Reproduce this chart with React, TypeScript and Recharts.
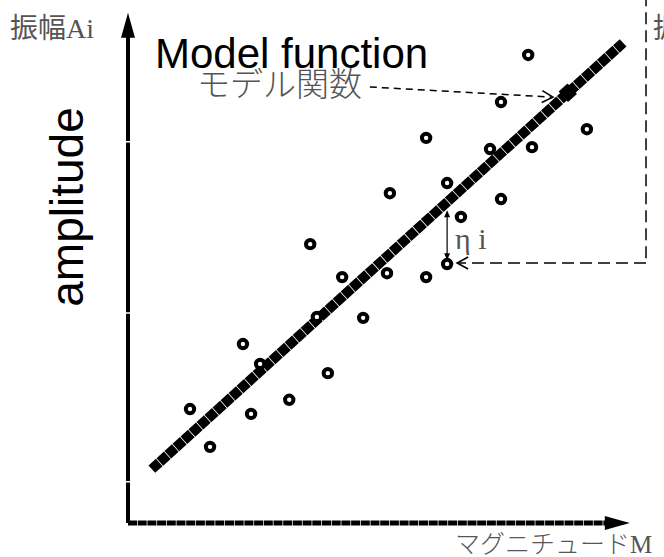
import { ComposedChart, Scatter, Line, XAxis, YAxis, ReferenceLine, ReferenceDot } from 'recharts';

const magnitude = [1.30, 1.72, 2.41, 2.58, 2.77, 3.38, 3.82, 3.96, 4.19, 4.49, 4.93, 5.43, 5.49, 6.25, 6.25, 6.69, 6.98, 6.69, 7.59, 7.82, 7.82, 8.39, 8.47, 9.62];
const amplitude = [2.35, 1.57, 3.69, 2.25, 3.28, 2.54, 5.75, 4.25, 3.09, 5.07, 4.23, 5.15, 6.80, 5.07, 7.94, 7.01, 6.31, 5.34, 7.71, 6.68, 8.68, 9.65, 7.75, 8.12];

// model function (fitted line), its two end points
const modelM = [0.5, 10.38];
const modelA = [1.11, 9.9];

// point on the model pointed at by the label
const markM = 9.22;
const markA = 8.87;

// residual eta_i
const etaM = 6.69;
const etaTop = 6.45;
const etaBottom = 5.42;

// small gaps cut in the amplitude axis
const yNotches = [0.85, 4.33, 7.86];

const points = magnitude.map((m, i) => ({ m, a: amplitude[i] }));
const model = modelM.map((m, i) => ({ m, fit: modelA[i] }));

type Head = 'solid' | 'open' | 'none';

function arrow(opts: { w: number; color?: string; dash?: string; head?: Head; tail?: Head; len?: number; half?: number }) {
    const { w, color = '#000', dash, head = 'none', tail = 'none', len = 10, half = 5 } = opts;
    return (props: any) => {
        const { x1, y1, x2, y2 } = props;
        const dx = x2 - x1;
        const dy = y2 - y1;
        const d = Math.hypot(dx, dy) || 1;
        const ux = dx / d;
        const uy = dy / d;
        const tip = (x: number, y: number, sx: number, sy: number, kind: Head, key: string) => {
            if (kind === 'none') return null;
            const bx = x - sx * len;
            const by = y - sy * len;
            const ax = bx - sy * half;
            const ay = by + sx * half;
            const cx = bx + sy * half;
            const cy = by - sx * half;
            if (kind === 'solid') {
                return <polygon key={key} points={`${x},${y} ${ax},${ay} ${cx},${cy}`} fill={color} />;
            }
            return <polyline key={key} points={`${ax},${ay} ${x},${y} ${cx},${cy}`} fill="none" stroke={color} strokeWidth={1.6} />;
        };
        const sx2 = head === 'solid' ? x2 - ux * len * 0.8 : x2;
        const sy2 = head === 'solid' ? y2 - uy * len * 0.8 : y2;
        const sx1 = tail === 'solid' ? x1 + ux * len * 0.8 : x1;
        const sy1 = tail === 'solid' ? y1 + uy * len * 0.8 : y1;
        return (
            <g>
                <line x1={sx1} y1={sy1} x2={sx2} y2={sy2} stroke={color} strokeWidth={w} strokeDasharray={dash} />
                {tip(x2, y2, ux, uy, head, 'h')}
                {tip(x1, y1, -ux, -uy, tail, 't')}
            </g>
        );
    };
}

const ring = (props: any) => (
    <circle cx={props.cx} cy={props.cy} r={4.2} fill="#fff" stroke="#000" strokeWidth={4} />
);

const serifJp = "'Liberation Serif', 'Noto Sans CJK JP', serif";
const sans = "'Liberation Sans', Arial, sans-serif";

export default function App() {
    return (
        <div style={{ position: 'absolute', left: 0, top: 0, width: 664, height: 557, overflow: 'hidden', background: '#fff' }}>
            <ComposedChart width={664} height={557} margin={{ top: 8.9, right: 11.3, bottom: 34, left: 128 }}>
                <XAxis type="number" dataKey="m" domain={[0, 11]} hide />
                <YAxis type="number" domain={[0, 10.6]} hide />

                {/* axes with arrow heads */}
                <ReferenceLine segment={[{ x: 0, y: 0 }, { x: 0, y: 10.52 }]} ifOverflow="visible" shape={arrow({ w: 4, head: 'solid', len: 25, half: 7 })} />
                <ReferenceLine segment={[{ x: 0, y: 0 }, { x: 10.52, y: 0 }]} ifOverflow="visible" shape={arrow({ w: 5, dash: '9 0.7', head: 'solid', len: 25, half: 7 })} />
                {yNotches.map((v) => (
                    <ReferenceLine key={v} segment={[{ x: -0.1, y: v }, { x: 0.1, y: v }]} ifOverflow="visible" stroke="#fff" strokeWidth={1.5} />
                ))}

                <Line
                    data={model}
                    dataKey="fit"
                    type="linear"
                    stroke="#000"
                    strokeWidth={10}
                    strokeDasharray="10 0.8"
                    dot={false}
                    activeDot={false}
                    isAnimationActive={false}
                />
                <Scatter data={points} dataKey="a" shape={ring} isAnimationActive={false} />

                <ReferenceDot
                    x={markM}
                    y={markA}
                    ifOverflow="visible"
                    shape={(p: any) => (
                        <rect x={p.cx - 6} y={p.cy - 7} width={12} height={14} fill="#000" transform={`rotate(-42 ${p.cx} ${p.cy})`} />
                    )}
                />

                {/* label arrow to the model */}
                <ReferenceLine segment={[{ x: 5.07, y: 8.99 }, { x: 8.91, y: 8.78 }]} ifOverflow="visible" shape={arrow({ w: 1.5, dash: '7 5', head: 'open', len: 11, half: 6 })} />
                {/* residual */}
                <ReferenceLine segment={[{ x: etaM, y: etaTop }, { x: etaM, y: etaBottom }]} ifOverflow="visible" shape={arrow({ w: 1.2, head: 'solid', tail: 'solid', len: 7, half: 3 })} />
                {/* dashed call-out from the right */}
                <ReferenceLine segment={[{ x: 10.86, y: 10.9 }, { x: 10.86, y: 5.36 }]} ifOverflow="visible" shape={arrow({ w: 1.5, dash: '12 6' })} />
                <ReferenceLine segment={[{ x: 10.86, y: 5.36 }, { x: 6.9, y: 5.36 }]} ifOverflow="visible" shape={arrow({ w: 1.5, dash: '12 6', head: 'open', len: 11, half: 6 })} />
            </ComposedChart>

            <svg width={664} height={557} style={{ position: 'absolute', left: 0, top: 0, pointerEvents: 'none' }}>
                <text x={10} y={38} fontSize={28} fontFamily={serifJp} fill="#555">振幅Ai</text>
                <text x={653} y={38} fontSize={28} fontFamily={serifJp} fill="#555">振幅</text>
                <text x={155} y={68} fontSize={42} fontFamily={sans} fill="#000">Model function</text>
                <text x={197} y={96} fontSize={33} fontFamily={serifJp} fontWeight={300} fill="#555">モデル関数</text>
                <text x={83} y={207} fontSize={46} fontFamily={sans} fill="#000" textAnchor="middle" transform="rotate(-90 83 207)">amplitude</text>
                <text x={455} y={249} fontSize={30} fontFamily={serifJp} fill="#555">η i</text>
                <text x={455} y={553} fontSize={25} fontFamily={serifJp} fontWeight={300} fill="#555">マグニチュードM</text>
            </svg>
        </div>
    );
}
